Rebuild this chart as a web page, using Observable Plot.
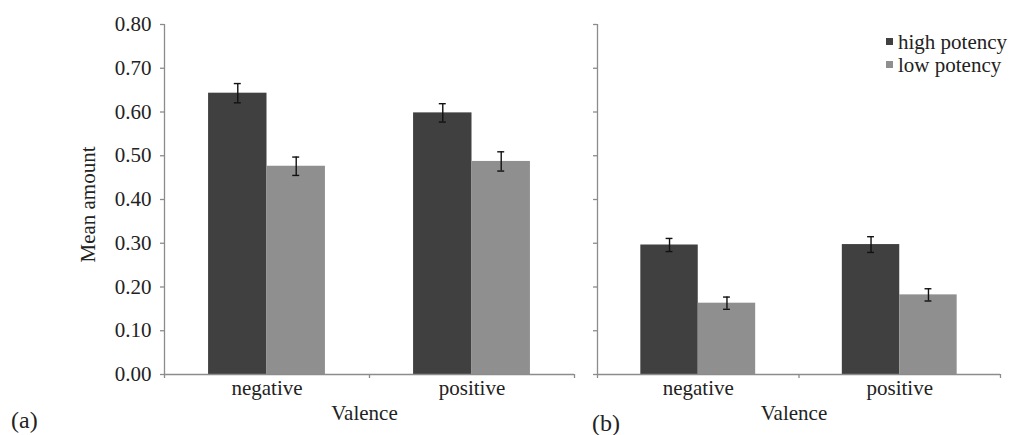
<!DOCTYPE html>
<html>
<head>
<meta charset="utf-8">
<script src="https://cdn.jsdelivr.net/npm/d3@7"></script>
<script src="https://cdn.jsdelivr.net/npm/@observablehq/plot@0.6"></script>
<style>
  html, body { margin: 0; padding: 0; background: #fff; font-family: 'Liberation Serif', serif; }
  #wrap { position: relative; width: 1011px; height: 435px; overflow: hidden; font-family: 'Liberation Serif', serif; color: #222; }
  .abs { position: absolute; white-space: nowrap; font-size: 21px; line-height: 21px; font-family: 'Liberation Serif', serif; }
  .sw { position: absolute; width: 7px; height: 7px; }
  svg text { font-family: 'Liberation Serif', serif; }
</style>
</head>
<body>
<div id="wrap"></div>
<script>
// ---- data ----
const valence = ["negative", "positive"];
const potency = ["high potency", "low potency"];
const yTicks = [0, 0.1, 0.2, 0.3, 0.4, 0.5, 0.6, 0.7, 0.8];
// panel (a)
const meanA_high = [0.643, 0.598];
const meanA_low  = [0.476, 0.487];
const errA_high  = [0.022, 0.021];
const errA_low   = [0.021, 0.022];
// panel (b)
const meanB_high = [0.296, 0.297];
const meanB_low  = [0.163, 0.182];
const errB_high  = [0.015, 0.018];
const errB_low   = [0.014, 0.014];

const colors = {"high potency": "#404040", "low potency": "#8f8f8f"};
const axisColor = "#8c8c8c";
const font = "'Liberation Serif', serif";

function rows(high, low, eHigh, eLow) {
  const out = [];
  valence.forEach((v, i) => {
    out.push({valence: v, i, potency: potency[0], mean: high[i], err: eHigh[i], k: 0});
    out.push({valence: v, i, potency: potency[1], mean: low[i], err: eLow[i], k: 1});
  });
  return out;
}

// bar geometry within each category band (fractions of the band)
const barStart = 0.215, barMid = 0.5, barEnd = 0.785;
const x1 = d => d.i + (d.k === 0 ? barStart : barMid);
const x2 = d => d.i + (d.k === 0 ? barMid : barEnd);
const cx = d => (x1(d) + x2(d)) / 2;
const capHalf = 0.017;

function panel(data, {width, marginLeft, marginRight, showYLabels}) {
  const marks = [
    Plot.rectY(data, {x1, x2, y1: 0, y2: "mean", fill: d => colors[d.potency]}),
    Plot.ruleX(data, {x: cx, y1: d => d.mean - d.err, y2: d => d.mean + d.err, stroke: "#111", strokeWidth: 1.4}),
    Plot.ruleY(data, {x1: d => cx(d) - capHalf, x2: d => cx(d) + capHalf, y: d => d.mean + d.err, stroke: "#111", strokeWidth: 1.4}),
    Plot.ruleY(data, {x1: d => cx(d) - capHalf, x2: d => cx(d) + capHalf, y: d => d.mean - d.err, stroke: "#111", strokeWidth: 1.4}),
    // axis lines
    Plot.ruleX([0], {y1: 0, y2: 0.8, stroke: axisColor, strokeWidth: 1.3}),
    Plot.ruleY([0], {stroke: axisColor, strokeWidth: 1.3}),
    Plot.axisY({ticks: yTicks, tickSize: 4, tickPadding: 9, stroke: axisColor, strokeWidth: 1.3,
      tickFormat: showYLabels ? d3.format(".2f") : () => "", fill: "#222", label: null}),
    Plot.axisX({ticks: [0, 1, 2], tickSize: 4, tickFormat: () => "", stroke: axisColor, strokeWidth: 1.3, label: null}),
    Plot.axisX({ticks: [0.5, 1.5], tickSize: 0, tickPadding: 6, tickFormat: d => valence[Math.floor(d)], fill: "#222", label: null}),
    Plot.text(["Valence"], {frameAnchor: "bottom", lineAnchor: "middle", textAnchor: "middle", dy: 39, dx: -5, fontSize: 21, fill: "#222"})
  ];
  if (showYLabels) {
    marks.push(Plot.text(["Mean amount"], {frameAnchor: "left", textAnchor: "middle", lineAnchor: "middle", rotate: -90, dx: -76, dy: 5, fontSize: 21, fill: "#222"}));
  }
  return Plot.plot({
    width, height: 435,
    marginLeft, marginRight, marginTop: 24, marginBottom: 61,
    style: {fontFamily: font, fontSize: "21px", background: "transparent", overflow: "visible"},
    x: {type: "linear", domain: [0, 2]},
    y: {domain: [0, 0.8]},
    marks
  });
}

const wrap = document.getElementById("wrap");

const left = panel(rows(meanA_high, meanA_low, errA_high, errA_low), {width: 580, marginLeft: 164, marginRight: 6, showYLabels: true});
left.style.position = "absolute"; left.style.left = "0px"; left.style.top = "0px";
wrap.appendChild(left);

const right = panel(rows(meanB_high, meanB_low, errB_high, errB_low), {width: 431, marginLeft: 17, marginRight: 11, showYLabels: false});
right.style.position = "absolute"; right.style.left = "580px"; right.style.top = "0px";
wrap.appendChild(right);

// panel letters
const la = document.createElement("div"); la.className = "abs"; la.textContent = "(a)";
la.style.left = "11px"; la.style.top = "408px"; la.style.fontSize = "24px"; la.style.lineHeight = "24px"; wrap.appendChild(la);
const lb = document.createElement("div"); lb.className = "abs"; lb.textContent = "(b)";
lb.style.left = "592px"; lb.style.top = "411px"; lb.style.fontSize = "24px"; lb.style.lineHeight = "24px"; wrap.appendChild(lb);

// legend
potency.forEach((p, j) => {
  const sw = document.createElement("div"); sw.className = "sw";
  sw.style.background = colors[p];
  sw.style.left = "886px"; sw.style.top = (38 + j * 23) + "px";
  wrap.appendChild(sw);
  const t = document.createElement("div"); t.className = "abs"; t.textContent = p;
  t.style.left = "898px"; t.style.top = (32 + j * 23) + "px";
  wrap.appendChild(t);
});
</script>
</body>
</html>
